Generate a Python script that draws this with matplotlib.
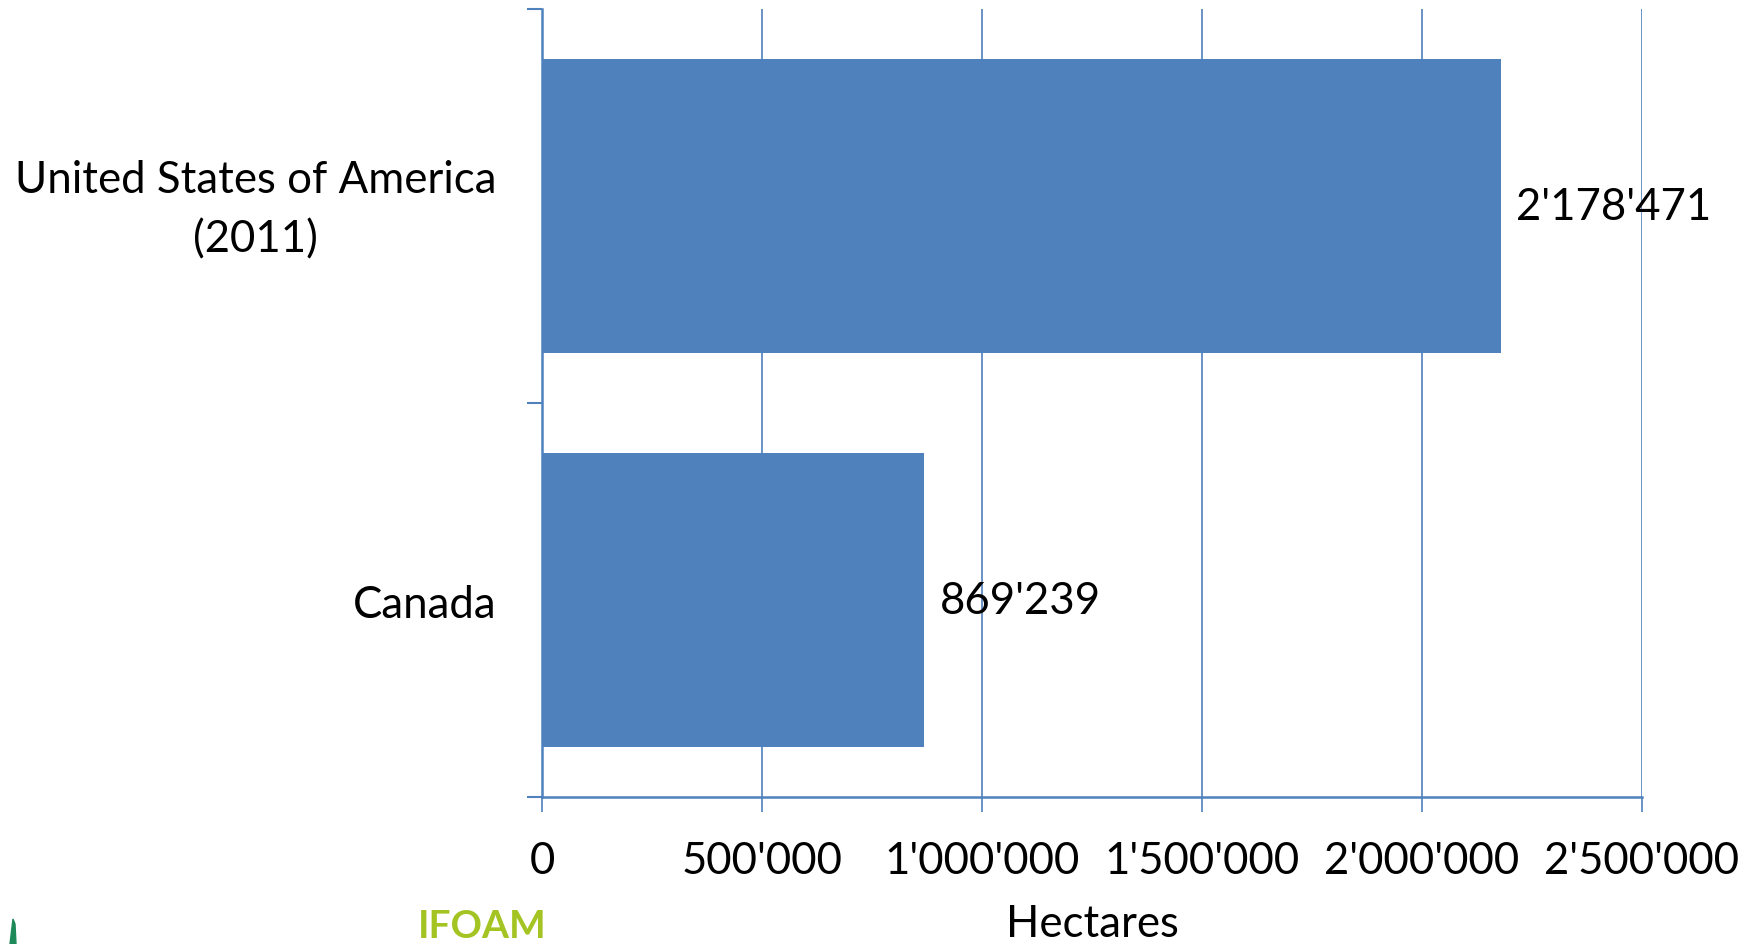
import matplotlib
matplotlib.use("Agg")
import matplotlib.pyplot as plt
from matplotlib.ticker import FuncFormatter
from matplotlib.transforms import ScaledTranslation

categories = ["Canada", "United States of America\n(2011)"]
values = [869239, 2178471]
value_labels = ["869'239", "2'178'471"]
xticks = [0, 500000, 1000000, 1500000, 2000000, 2500000]
xlabel = "Hectares"

BLUE = "#4F81BD"
FONT = "Lato"
FS = 31.5

plt.rcParams['font.family'] = [FONT, 'DejaVu Sans']

fig = plt.figure(figsize=(17.53, 9.45), dpi=100)
ax = fig.add_axes([542/1753, 1-798/945, 1100/1753, 788/945])

ypos = list(range(len(categories)))
ax.barh(ypos, values, height=0.745, color=BLUE, zorder=3)
ax.set_xlim(0, 2500000)
ax.set_ylim(-0.5, len(categories) - 0.5)

for y, v, lab in zip(ypos, values, value_labels):
    ax.annotate(lab, (v, y), xytext=(15, 0), textcoords="offset pixels",
                ha="left", va="center", fontsize=FS, color="black", zorder=5)

ax.set_xticks(xticks)
ax.xaxis.set_major_formatter(FuncFormatter(
    lambda v, p: "0" if v == 0 else f"{int(v):,}".replace(",", "'")))
ax.tick_params(axis="x", direction="out", length=11, width=1.2, color=BLUE,
               labelsize=FS, pad=20)
ax.grid(axis="x", color=BLUE, linewidth=1.2, zorder=0)

ax.set_yticks([-0.5, 0.5, 1.5])
ax.set_yticklabels([])
ax.set_yticks(ypos, minor=True)
ax.set_yticklabels(categories, minor=True)
ax.tick_params(axis="y", which="major", direction="out", length=11, width=1.5, color=BLUE)
ax.tick_params(axis="y", which="minor", length=0, labelsize=FS, pad=33)
for t in ax.get_yticklabels(minor=True):
    t.set_multialignment("center")
    if "\n" in t.get_text():
        t.set_linespacing(1.55)
        t.set_transform(t.get_transform() + ScaledTranslation(0, 0.1, fig.dpi_scale_trans))

for s in ["top", "right"]:
    ax.spines[s].set_visible(False)
for s in ["left", "bottom"]:
    ax.spines[s].set_color(BLUE)
    ax.spines[s].set_linewidth(1.8)

ax.set_xlabel(xlabel, fontsize=FS, labelpad=16)

# partial logos at the bottom-left edge
fig.text(418/1753, 1/945, "IFOAM", fontsize=28, fontweight="bold",
         color="#A4C424", ha="left", va="bottom")
fig.patches.append(plt.Polygon([[10/1753, 0], [16/1753, 0], [15/1753, 1-925/945], [13/1753, 1-920/945]],
                               closed=True, transform=fig.transFigure, color="#1E8A5A"))

fig.savefig("out.png", dpi=100)
